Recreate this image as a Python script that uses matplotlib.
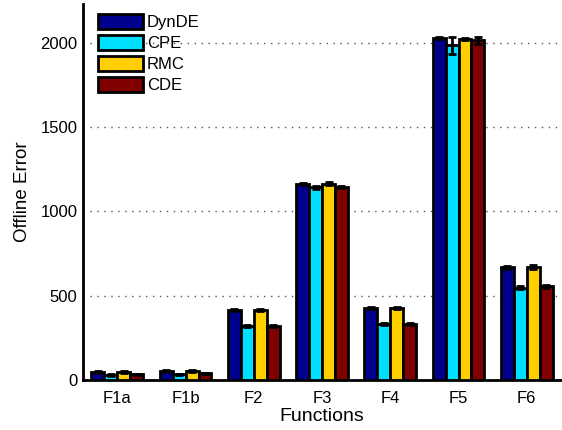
import matplotlib
matplotlib.use("Agg")
import matplotlib.pyplot as plt
import numpy as np

plt.rcParams['font.family'] = ['Liberation Sans', 'DejaVu Sans']

functions = ["F1a", "F1b", "F2", "F3", "F4", "F5", "F6"]
series = ["DynDE", "CPE", "RMC", "CDE"]
dynde = [48, 55, 414, 1162, 426, 2028, 668]
cpe = [30, 35, 320, 1142, 331, 1985, 548]
rmc = [48, 53, 414, 1165, 426, 2022, 670]
cde = [35, 40, 320, 1145, 335, 2015, 555]
dynde_err = [6, 6, 6, 8, 6, 6, 10]
cpe_err = [4, 4, 6, 8, 6, 50, 10]
rmc_err = [6, 6, 6, 8, 6, 6, 10]
cde_err = [4, 4, 6, 8, 6, 20, 10]
colors = ["#00008F", "#00DFFF", "#FFCF00", "#800000"]

fig = plt.figure(figsize=(5.62, 4.30), dpi=100)
ax = fig.add_axes([0.148, 0.116, 0.850, 0.875])

x = np.arange(1, len(functions) + 1)
vals = [dynde, cpe, rmc, cde]
errs = [dynde_err, cpe_err, rmc_err, cde_err]
w = 0.19
offsets = (np.arange(4) - 1.5) * w
for i in range(4):
    ax.bar(x + offsets[i], vals[i], width=w, color=colors[i], edgecolor='black',
           linewidth=2, label=series[i], zorder=3)
    ax.errorbar(x + offsets[i], vals[i], yerr=errs[i], fmt='none', ecolor='black',
                elinewidth=2, capsize=3, capthick=2, zorder=4)

ax.set_xlim(0.5, 7.5)
ax.set_ylim(0, 2230)
ax.set_xticks(x)
ax.set_xticklabels(functions, fontsize=12)
ax.set_yticks([0, 500, 1000, 1500, 2000])
ax.tick_params(axis='y', labelsize=12, direction='in', length=0, pad=4)
ax.tick_params(axis='x', direction='in', length=0, pad=8)
ax.yaxis.grid(True, linestyle=(0, (1, 4)), color='#555555', linewidth=1, zorder=0)
ax.set_axisbelow(True)
for s in ['top', 'right']:
    ax.spines[s].set_visible(False)
for s in ['left', 'bottom']:
    ax.spines[s].set_linewidth(2)
ax.set_xlabel("Functions", fontsize=14, labelpad=1)
ax.set_ylabel("Offline Error", fontsize=13.5, labelpad=7)

leg = ax.legend(loc='upper left', frameon=False, fontsize=12, handlelength=2.7,
                handleheight=1.0, handletextpad=0.2, labelspacing=0.28,
                borderaxespad=0.0, bbox_to_anchor=(0.018, 0.99))

fig.savefig("out.png", dpi=100)
